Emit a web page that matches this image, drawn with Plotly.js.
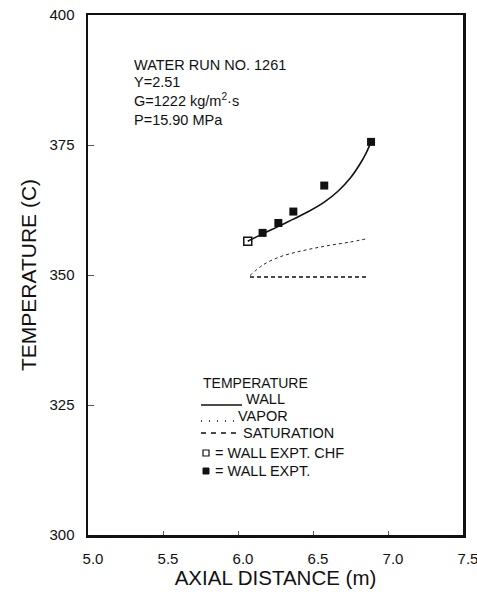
<!DOCTYPE html>
<html>
<head>
<meta charset="utf-8">
<script src="https://cdn.plot.ly/plotly-3.0.1.min.js"></script>
<style>html,body{margin:0;padding:0;background:#fff;}#chart{width:477px;height:592px;}</style>
</head>
<body>
<div id="chart"></div>
<script>
// Wall temperature (predicted, solid line)
const wallX = [6.065, 6.17, 6.27, 6.365, 6.47, 6.575, 6.67, 6.75, 6.81, 6.855, 6.887];
const wallT = [356.5, 358.0, 359.35, 360.7, 362.2, 364.0, 366.2, 368.7, 371.2, 373.5, 375.6];
// Vapor temperature (dotted)
const vaporX = [6.08, 6.17, 6.28, 6.39, 6.50, 6.61, 6.74, 6.864];
const vaporT = [349.9, 352.0, 353.5, 354.4, 355.1, 355.7, 356.3, 357.0];
// Saturation temperature (dashed)
const satX = [6.08, 6.86];
const satT = [349.6, 349.6];
// Experimental wall temperature at CHF (open square)
const chfX = [6.065];
const chfT = [356.5];
// Experimental wall temperatures (filled squares)
const exptX = [6.164, 6.269, 6.369, 6.575, 6.887];
const exptT = [358.1, 360.0, 362.2, 367.2, 375.6];
// Axis ticks
const xTicks = [5.0, 5.5, 6.0, 6.5, 7.0, 7.5];
const xTickText = ["5.0", "5.5", "6.0", "6.5", "7.0", "7.5"];
const yTicks = [300, 325, 350, 375, 400];
const yTickText = ["300", "325", "350", "375", "400"];
// Info text
const infoLines = ["WATER RUN NO. 1261", "Y=2.51", "G=1222 kg/m<sup>2</sup>·s", "P=15.90 MPa"];
const legendTitle = "TEMPERATURE";
const legendLabels = ["WALL", "VAPOR", "SATURATION", "= WALL EXPT. CHF", "= WALL EXPT."];

const FONT = "Liberation Sans, Arial, Helvetica, sans-serif";

const traces = [
  {x: wallX, y: wallT, mode: "lines", line: {color: "#111", width: 1.6, shape: "spline", smoothing: 1}, name: "WALL"},
  {x: vaporX, y: vaporT, mode: "lines", line: {color: "#222", width: 1, dash: "dot", shape: "spline"}, name: "VAPOR"},
  {x: satX, y: satT, mode: "lines", line: {color: "#111", width: 1.5, dash: "4px,3px"}, name: "SATURATION"},
  {x: chfX, y: chfT, mode: "markers", marker: {symbol: "square-open", size: 8, color: "#111", line: {width: 1.5, color: "#111"}}, name: "WALL EXPT. CHF"},
  {x: exptX, y: exptT, mode: "markers", marker: {symbol: "square", size: 8, color: "#111"}, name: "WALL EXPT."}
];

// pixel helpers for paper coords
const L = 88, R = 463, T = 15, B = 535;
const px = v => (v - L) / (R - L);
const py = v => (B - v) / (B - T);

const annotations = [];
const infoY = [65, 82, 100, 120];
infoLines.forEach((t, i) => {
  annotations.push({xref: "paper", yref: "paper", x: px(133), y: py(infoY[i]), xanchor: "left", yanchor: "middle",
    text: t, showarrow: false, borderpad: 0, font: {family: FONT, size: 14.5, color: "#111"}});
});
annotations.push({xref: "paper", yref: "paper", x: px(202), y: py(383), xanchor: "left", yanchor: "middle",
  text: legendTitle, showarrow: false, borderpad: 0, font: {family: FONT, size: 14, color: "#111"}});
const legY = [399, 416, 433, 453, 471];
const legXText = [245, 237, 242, 214, 214];
legendLabels.forEach((t, i) => {
  annotations.push({xref: "paper", yref: "paper", x: px(legXText[i]), y: py(legY[i]), xanchor: "left", yanchor: "middle",
    text: t, showarrow: false, borderpad: 0, font: {family: FONT, size: 14.5, color: "#111"}});
});

const shapes = [
  {type: "line", xref: "paper", yref: "paper", x0: px(201), x1: px(242), y0: py(405), y1: py(405), line: {color: "#111", width: 1.3}},
  {type: "line", xref: "paper", yref: "paper", x0: px(201), x1: px(234), y0: py(421), y1: py(421), line: {color: "#111", width: 1.3, dash: "1px,7px"}},
  {type: "line", xref: "paper", yref: "paper", x0: px(201), x1: px(238), y0: py(433), y1: py(433), line: {color: "#111", width: 1.6, dash: "5px,5px"}},
  {type: "rect", xref: "paper", yref: "paper", x0: px(203), x1: px(209), y0: py(456), y1: py(450), line: {color: "#111", width: 1.2}},
  {type: "rect", xref: "paper", yref: "paper", x0: px(203), x1: px(209), y0: py(474), y1: py(468), fillcolor: "#111", line: {color: "#111", width: 1}}
];

const layout = {
  width: 477, height: 592,
  margin: {l: L, r: 477 - R, t: T, b: 592 - B, pad: 0},
  paper_bgcolor: "#fff", plot_bgcolor: "#fff",
  showlegend: false,
  font: {family: FONT, color: "#111"},
  xaxis: {
    range: [5.0, 7.5], tickvals: xTicks, ticktext: xTickText,
    showgrid: false, zeroline: false, showline: true, mirror: true, linecolor: "#111", linewidth: 2.5,
    ticks: "inside", ticklen: 4, tickcolor: "#555", tickwidth: 1,
    ticklabelshift: 5, ticklabelstandoff: 8, ticklabeloverflow: "allow",
    tickfont: {family: FONT, size: 15, color: "#111"},
    title: {text: "AXIAL DISTANCE (m)", font: {family: FONT, size: 20.5, color: "#111"}, standoff: 2}
  },
  yaxis: {
    range: [300, 400], tickvals: yTicks, ticktext: yTickText,
    showgrid: false, zeroline: false, showline: true, mirror: true, linecolor: "#111", linewidth: 2.5,
    ticks: "inside", ticklen: 6, tickcolor: "#555", tickwidth: 1,
    ticklabelstandoff: 8,
    tickfont: {family: FONT, size: 15, color: "#111"},
    title: {text: "TEMPERATURE (C)", font: {family: FONT, size: 21, color: "#111"}, standoff: 7}
  },
  annotations: annotations,
  shapes: shapes
};

Plotly.newPlot("chart", traces, layout, {displayModeBar: false, staticPlot: true});
</script>
</body>
</html>
